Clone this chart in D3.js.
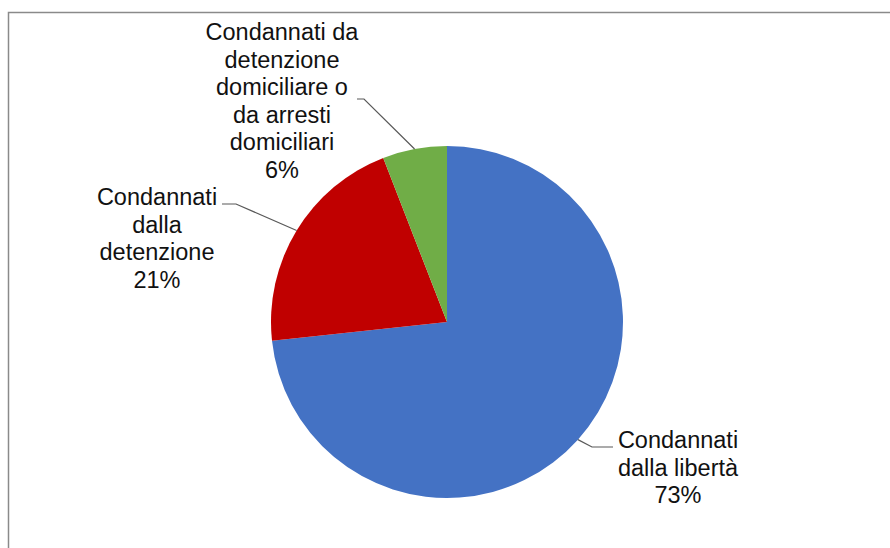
<!DOCTYPE html>
<html>
<head>
<meta charset="utf-8">
<script src="https://cdn.jsdelivr.net/npm/d3@7/dist/d3.min.js"></script>
<style>
  html, body { margin: 0; padding: 0; background: #fff; }
  svg { display: block; }
</style>
</head>
<body>
<svg id="chart" width="890" height="548"></svg>
<script>
// Data
const categories = ["Condannati dalla libertà", "Condannati dalla detenzione", "Condannati da detenzione domiciliare o da arresti domiciliari"];
const values = [73.3, 20.8, 5.9];
const percentLabels = ["73%", "21%", "6%"];
const labelLines = [
  ["Condannati", "dalla libertà"],
  ["Condannati", "dalla", "detenzione"],
  ["Condannati da", "detenzione", "domiciliare o", "da arresti", "domiciliari"]
];
const colors = ["#4472C4", "#C00000", "#70AD47"];

const svg = d3.select("#chart");
const W = 890, H = 548;

// frame
svg.append("rect")
  .attr("x", 8.5).attr("y", 12.5)
  .attr("width", W + 20).attr("height", H + 20)
  .attr("fill", "none").attr("stroke", "#8a8a8a").attr("stroke-width", 1.5);

const cx = 447, cy = 322, R = 176;
const g = svg.append("g").attr("transform", `translate(${cx},${cy})`);

const pie = d3.pie().sort(null).value(d => d)(values);
const arc = d3.arc().innerRadius(0).outerRadius(R);
const edgeArc = d3.arc().innerRadius(R).outerRadius(R);

g.selectAll("path.slice").data(pie).enter().append("path")
  .attr("class", "slice")
  .attr("d", arc)
  .attr("fill", (d, i) => colors[i]);

// label layout (positions in page coords)
const labelLayout = [
  { x: 678, y: 448, elbow: [592, 447], end: [613, 447] },
  { x: 157, y: 205, elbow: [236, 204], end: [222, 204] },
  { x: 282, y: 40,  elbow: [364, 99],  end: [357, 99] }
];
const lh = 27.6;

pie.forEach((d, i) => {
  const c = edgeArc.centroid(d);
  const p0 = [cx + c[0], cy + c[1]];
  const L = labelLayout[i];
  svg.append("polyline")
    .attr("points", [p0, L.elbow, L.end].map(p => p.join(",")).join(" "))
    .attr("fill", "none").attr("stroke", "#595959").attr("stroke-width", 1.2);

  const lines = labelLines[i].concat([percentLabels[i]]);
  const t = svg.append("text")
    .attr("text-anchor", "middle")
    .attr("font-family", "Liberation Sans, Arial, sans-serif")
    .attr("font-size", "23.5px")
    .attr("fill", "#111");
  lines.forEach((s, k) => {
    t.append("tspan").attr("x", L.x).attr("y", L.y + k * lh).text(s);
  });
});
</script>
</body>
</html>
